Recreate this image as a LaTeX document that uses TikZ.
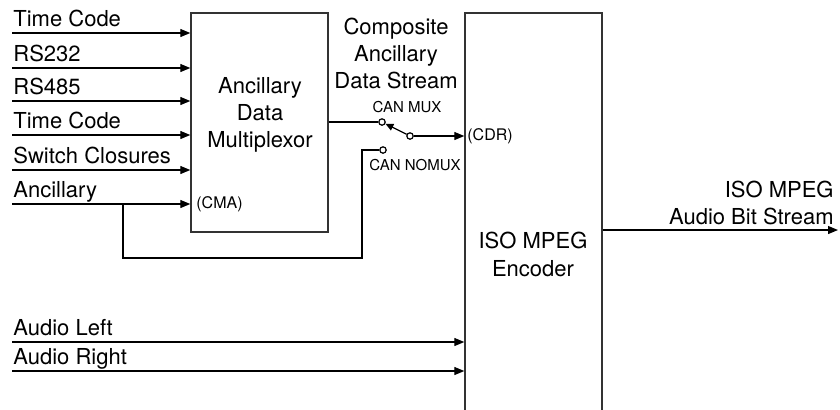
\documentclass[tikz,border=0pt]{standalone}
\usepackage{fontspec}
\setmainfont{TeX Gyre Heros}
\usepackage{tikz}
\usetikzlibrary{arrows.meta,positioning,calc}

\begin{document}
\begin{tikzpicture}[
    x=0.5pt, y=-0.5pt,
    font=\fontsize{11}{13.5}\selectfont,
    block/.style={rectangle, draw=black!80, line width=0.7pt, inner sep=0pt,
                  minimum width=68.5pt},
    sig/.style={line width=0.6pt, -{Triangle[length=5pt,width=4pt]}},
    wire/.style={line width=0.6pt},
    contact/.style={circle, draw, fill=white, line width=0.6pt, inner sep=0pt, minimum size=3.2pt},
    inlabel/.style={anchor=base west, inner sep=0pt},
    tag/.style={font=\fontsize{8}{9}\selectfont, inner sep=0pt},
    small/.style={font=\fontsize{7.5}{9}\selectfont, inner sep=0pt}
]
    \useasboundingbox (0,0) rectangle (840,409);
    \clip (0,0) rectangle (840,409);

    % Blocks
    \node[block, minimum height=109.5pt] (mux) at (259.5,122.5) {};
    \node[block, minimum height=214pt] (enc) at (533.5,227) {};
    \node[align=center] (muxtext) at (260,115) {Ancillary\\Data\\Multiplexor};
    \node[align=center, font=\fontsize{11}{14}\selectfont] (enctext) at (533,254) {ISO MPEG\\Encoder};

    % Data inputs
    \foreach \y/\name [count=\i] in {33/Time Code, 68/RS232, 101/RS485, 135/Time Code, 170/Switch Closures, 204/Ancillary} {
        \coordinate (in\i) at (12,\y);
        \node[inlabel] (inlab\i) at (13,\y-7) {\name};
        \draw[sig] (in\i) -- (in\i -| mux.west);
    }
    \node[tag, anchor=west] (cma) at (196,204) {(CMA)};

    % Switch
    \node[contact] (muxc) at (382,122) {};
    \node[contact] (com) at (410,136) {};
    \node[contact] (nomux) at (383,150) {};
    \draw[wire] (mux.east |- muxc) -- (muxc);
    \draw[line width=0.6pt, -{Triangle[length=4pt,width=3.5pt]}] (com) -- (muxc);
    \draw[sig] (com) -- (com -| enc.west);
    \node[small] (muxlab) at (407,107) {CAN MUX};
    \node[small] (nomuxlab) at (415,165) {CAN NOMUX};
    \node[tag, anchor=west] (cdr) at (467,136) {(CDR)};
    \node[align=center] (cads) at (396,53) {Composite\\Ancillary\\Data Stream};

    % Ancillary bypass
    \coordinate (tap) at (123,204);
    \coordinate (loop) at (362,258);
    \draw[wire] (tap) |- (loop) |- (nomux);

    % Audio inputs
    \foreach \y/\name [count=\i] in {342/Audio Left, 371/Audio Right} {
        \coordinate (au\i) at (12,\y);
        \node[inlabel] (aulab\i) at (13,\y-7) {\name};
        \draw[sig] (au\i) -- (au\i -| enc.west);
    }

    % Output
    \coordinate (out) at (838,230);
    \draw[sig] (enc.east |- out) -- (out);
    \node[align=right, anchor=south east, inner sep=0pt, text depth=0pt] (outlab) at (834,225) {ISO MPEG\\Audio Bit Stream};
\end{tikzpicture}
\end{document}
